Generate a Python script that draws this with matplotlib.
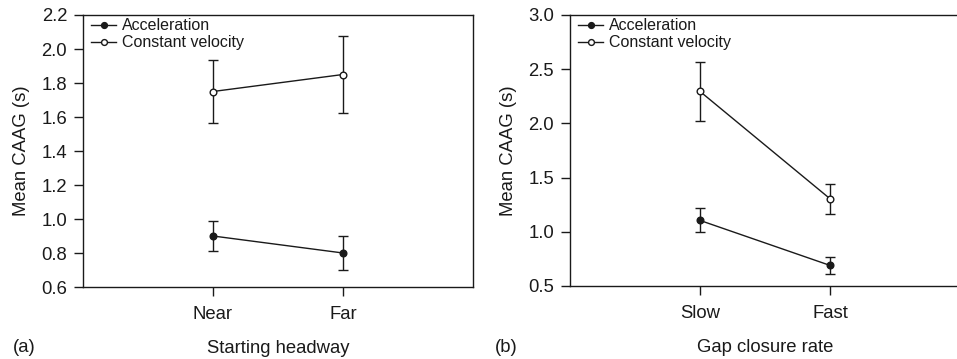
import matplotlib
matplotlib.use("Agg")
import matplotlib.pyplot as plt
from matplotlib.lines import Line2D

plt.rcParams['font.family'] = ['Liberation Sans', 'DejaVu Sans']

# Panel (a)
cats_a = ["Near", "Far"]
acc_a = [0.90, 0.80]
acc_a_err = [0.09, 0.10]
cv_a = [1.75, 1.85]
cv_a_err = [0.185, 0.225]

# Panel (b)
cats_b = ["Slow", "Fast"]
acc_b = [1.105, 0.69]
acc_b_err = [0.11, 0.08]
cv_b = [2.295, 1.305]
cv_b_err = [0.27, 0.14]

INK = '#1a1a1a'
FS = 13.3
fig = plt.figure(figsize=(9.57, 3.59), dpi=100)
W, H = 957, 359

def make_ax(left, right, top, bottom):
    return fig.add_axes([left / W, 1 - bottom / H, (right - left) / W, (bottom - top) / H])

ax1 = make_ax(83, 473, 15, 287)
ax2 = make_ax(570, 960, 15, 286)

def draw(ax, cats, acc, acc_err, cv, cv_err, ylim, yticks, fmt, xlabel):
    x = [1, 2]
    ax.errorbar(x, acc, yerr=acc_err, color=INK, lw=1.0, marker='o', ms=4.8,
                mfc=INK, mec=INK, capsize=3.5, elinewidth=1.0, capthick=1.0)
    ax.errorbar(x, cv, yerr=cv_err, color=INK, lw=1.0, marker='o', ms=4.8,
                mfc='white', mec=INK, mew=1.0, capsize=3.5, elinewidth=1.0, capthick=1.0)
    ax.set_xlim(0, 3)
    ax.set_ylim(*ylim)
    ax.set_xticks(x)
    ax.set_xticklabels(cats)
    ax.set_yticks(yticks)
    ax.set_yticklabels([fmt.format(v) for v in yticks])
    ax.tick_params(direction='out', length=6.5, width=1.0, labelsize=FS, colors=INK, pad=5)
    ax.tick_params(axis='x', pad=7)
    for s in ax.spines.values():
        s.set_linewidth(1.0)
        s.set_color(INK)
    ax.set_ylabel('Mean CAAG (s)', fontsize=FS, color=INK, labelpad=8)
    ax.set_xlabel(xlabel, fontsize=FS, color=INK, labelpad=12.5)
    handles = [
        Line2D([], [], color=INK, lw=1.0, marker='o', ms=4.2, mfc=INK, mec=INK),
        Line2D([], [], color=INK, lw=1.0, marker='o', ms=4.2, mfc='white', mec=INK),
    ]
    leg = ax.legend(handles, ['Acceleration', 'Constant velocity'], loc='upper left',
                    frameon=False, fontsize=11.5, handlelength=1.6,
                    handletextpad=0.35, borderaxespad=0.0, labelspacing=0.12,
                    borderpad=0.2)
    leg.set_bbox_to_anchor((0.012, 1.0), transform=ax.transAxes)
    for t in leg.get_texts():
        t.set_color(INK)

draw(ax1, cats_a, acc_a, acc_a_err, cv_a, cv_a_err, (0.6, 2.2),
     [0.6, 0.8, 1.0, 1.2, 1.4, 1.6, 1.8, 2.0, 2.2], '{:.1f}', 'Starting headway')
draw(ax2, cats_b, acc_b, acc_b_err, cv_b, cv_b_err, (0.5, 3.0),
     [0.5, 1.0, 1.5, 2.0, 2.5, 3.0], '{:.1f}', 'Gap closure rate')

fig.text(13 / W, 1 - 347 / H, '(a)', fontsize=FS, va='center', ha='left', color=INK)
fig.text(495 / W, 1 - 347 / H, '(b)', fontsize=FS, va='center', ha='left', color=INK)

fig.savefig('out.png', dpi=100)
